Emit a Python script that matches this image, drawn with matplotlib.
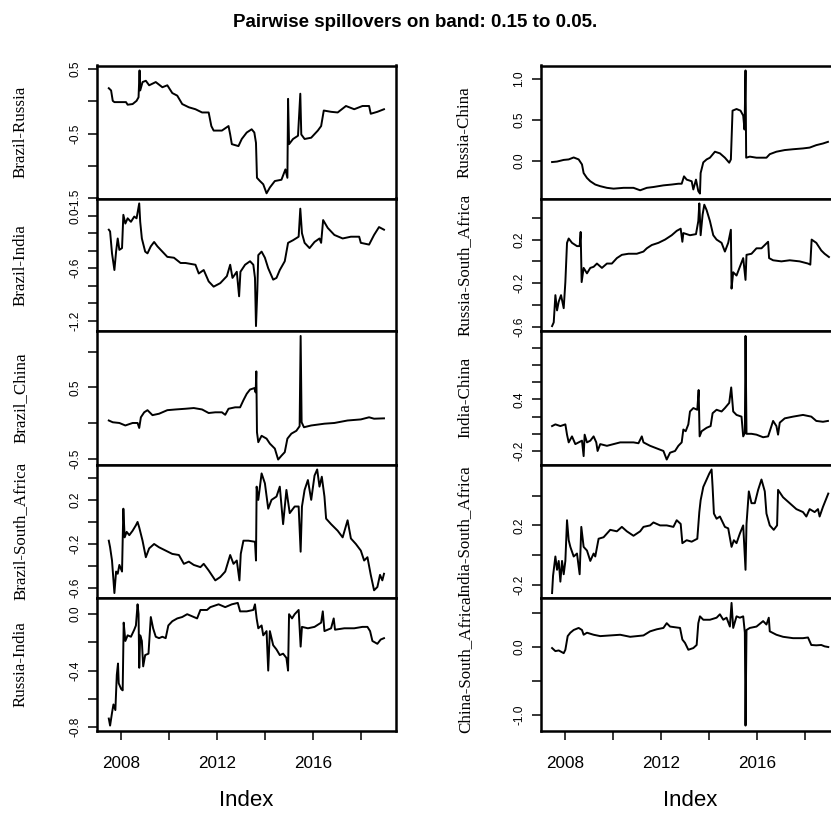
import matplotlib
matplotlib.use("Agg")
import matplotlib.pyplot as plt

# --- data (decimal year, spillover value) ---

br_ru_t = [2007.476, 2007.572, 2007.641, 2007.71, 2008.193, 2008.262, 2008.469, 2008.634, 2008.717, 2008.759,
           2008.786, 2008.883, 2009.021, 2009.159, 2009.434, 2009.71, 2009.917, 2010.124, 2010.331, 2010.538,
           2010.814, 2011.09, 2011.366, 2011.641, 2011.752, 2011.848, 2012.193, 2012.469, 2012.538, 2012.607,
           2012.883, 2013.021, 2013.228, 2013.434, 2013.545, 2013.614, 2013.655, 2013.779, 2013.917, 2014.055,
           2014.193, 2014.40, 2014.676, 2014.841, 2014.924, 2014.952, 2014.993, 2015.159, 2015.366, 2015.462,
           2015.503, 2015.641, 2015.917, 2016.193, 2016.331, 2016.441, 2016.745, 2017.021, 2017.366, 2017.71,
           2018.055, 2018.331, 2018.40, 2018.676, 2018.952]
br_ru = [0.205, 0.17, 0.01, -0.01, -0.01, -0.05, -0.04, 0.01, 0.065, 0.48,
         0.17, 0.30, 0.32, 0.25, 0.30, 0.22, 0.25, 0.13, 0.09, -0.04,
         -0.09, -0.12, -0.17, -0.17, -0.38, -0.45, -0.45, -0.38, -0.51, -0.66,
         -0.69, -0.58, -0.48, -0.43, -0.48, -0.64, -1.18, -1.23, -1.28, -1.42,
         -1.33, -1.23, -1.21, -1.05, -1.18, 0.04, -0.66, -0.58, -0.53, 0.12,
         -0.51, -0.58, -0.56, -0.45, -0.38, -0.14, -0.16, -0.17, -0.07, -0.12,
         -0.07, -0.07, -0.19, -0.16, -0.12]

br_in_t = [2007.476, 2007.53, 2007.61, 2007.71, 2007.78, 2007.848, 2007.917, 2008.028, 2008.083, 2008.166,
           2008.262, 2008.40, 2008.538, 2008.634, 2008.745, 2008.786, 2008.855, 2008.993, 2009.09, 2009.228,
           2009.366, 2009.503, 2009.71, 2009.917, 2010.193, 2010.469, 2010.676, 2011.09, 2011.228, 2011.434,
           2011.641, 2011.848, 2012.124, 2012.40, 2012.538, 2012.634, 2012.814, 2012.910, 2012.966, 2013.159,
           2013.366, 2013.503, 2013.572, 2013.614, 2013.669, 2013.71, 2013.848, 2013.986, 2014.124, 2014.331,
           2014.469, 2014.607, 2014.814, 2014.952, 2015.159, 2015.393, 2015.462, 2015.531, 2015.641, 2015.848,
           2016.055, 2016.262, 2016.331, 2016.414, 2016.607, 2016.883, 2017.228, 2017.572, 2017.917, 2017.986,
           2018.331, 2018.538, 2018.745, 2018.952]
br_in = [-0.16, -0.18, -0.43, -0.62, -0.41, -0.26, -0.39, -0.37, 0.01, -0.09,
         -0.03, -0.07, -0.01, -0.03, 0.14, -0.07, -0.26, -0.41, -0.43, -0.35,
         -0.30, -0.35, -0.41, -0.47, -0.48, -0.54, -0.54, -0.56, -0.66, -0.62,
         -0.75, -0.81, -0.77, -0.69, -0.56, -0.71, -0.64, -0.92, -0.64, -0.56,
         -0.52, -0.56, -0.71, -1.26, -0.86, -0.45, -0.41, -0.48, -0.60, -0.73,
         -0.71, -0.62, -0.52, -0.31, -0.28, -0.24, 0.08, -0.20, -0.31, -0.37,
         -0.30, -0.26, -0.31, -0.05, -0.14, -0.22, -0.26, -0.24, -0.24, -0.31,
         -0.33, -0.22, -0.13, -0.16]

br_cn_t = [2007.476, 2007.641, 2007.917, 2008.166, 2008.469, 2008.676, 2008.745, 2008.814, 2008.952, 2009.09,
           2009.297, 2009.572, 2009.917, 2010.262, 2010.676, 2011.021, 2011.366, 2011.641, 2011.917, 2012.193,
           2012.331, 2012.469, 2012.745, 2012.952, 2013.09, 2013.228, 2013.366, 2013.545, 2013.60, 2013.628,
           2013.655, 2013.71, 2013.848, 2014.055, 2014.193, 2014.40, 2014.538, 2014.676, 2014.814, 2014.924,
           2015.09, 2015.297, 2015.434, 2015.476, 2015.517, 2015.614, 2015.917, 2016.469, 2016.883, 2017.434,
           2017.986, 2018.331, 2018.538, 2018.952]
br_cn = [0.035, 0.01, 0.0, -0.035, 0.0, 0.0, -0.07, 0.08, 0.15, 0.18,
         0.11, 0.13, 0.18, 0.19, 0.20, 0.21, 0.19, 0.14, 0.15, 0.15,
         0.115, 0.20, 0.22, 0.22, 0.32, 0.41, 0.47, 0.49, 0.43, 0.725,
         -0.13, -0.27, -0.18, -0.22, -0.29, -0.36, -0.514, -0.46, -0.41, -0.22,
         -0.15, -0.11, -0.045, 1.223, 0.01, -0.06, -0.035, -0.01, 0.0, 0.035,
         0.05, 0.08, 0.06, 0.065]

br_sa_t = [2007.476, 2007.53, 2007.61, 2007.71, 2007.78, 2007.848, 2007.917, 2008.028, 2008.083, 2008.138,
           2008.221, 2008.331, 2008.469, 2008.607, 2008.676, 2008.745, 2008.883, 2009.021, 2009.159, 2009.366,
           2009.572, 2009.848, 2010.124, 2010.40, 2010.607, 2010.814, 2011.021, 2011.297, 2011.434, 2011.641,
           2011.917, 2012.124, 2012.331, 2012.538, 2012.676, 2012.814, 2012.924, 2012.979, 2013.09, 2013.297,
           2013.572, 2013.614, 2013.641, 2013.71, 2013.848, 2013.986, 2014.124, 2014.262, 2014.469, 2014.607,
           2014.745, 2014.883, 2015.021, 2015.228, 2015.393, 2015.476, 2015.531, 2015.641, 2015.779, 2015.917,
           2016.055, 2016.166, 2016.262, 2016.359, 2016.469, 2016.538, 2016.745, 2017.021, 2017.228, 2017.434,
           2017.572, 2017.779, 2017.986, 2018.124, 2018.262, 2018.40, 2018.538, 2018.676, 2018.786, 2018.883,
           2018.952]
br_sa = [-0.17, -0.23, -0.35, -0.645, -0.45, -0.47, -0.39, -0.45, 0.12, -0.14,
         -0.09, -0.12, -0.08, -0.03, 0.0, -0.05, -0.17, -0.32, -0.24, -0.20,
         -0.23, -0.26, -0.29, -0.30, -0.38, -0.36, -0.39, -0.41, -0.38, -0.44,
         -0.53, -0.50, -0.45, -0.30, -0.38, -0.35, -0.53, -0.29, -0.17, -0.17,
         -0.18, -0.35, 0.32, 0.20, 0.44, 0.35, 0.12, 0.20, 0.23, 0.32,
         -0.02, 0.29, 0.08, 0.14, 0.14, -0.27, 0.14, 0.29, 0.38, 0.20,
         0.42, 0.476, 0.32, 0.41, 0.23, 0.03, -0.02, -0.08, -0.14, 0.015,
         -0.15, -0.20, -0.26, -0.35, -0.32, -0.48, -0.62, -0.59, -0.48, -0.53,
         -0.47]

ru_in_t = [2007.476, 2007.53, 2007.61, 2007.67, 2007.75, 2007.81, 2007.86, 2007.89, 2007.99, 2008.055,
           2008.097, 2008.166, 2008.262, 2008.40, 2008.538, 2008.607, 2008.676, 2008.717, 2008.745, 2008.786,
           2008.855, 2008.910, 2008.993, 2009.131, 2009.228, 2009.324, 2009.434, 2009.572, 2009.71, 2009.848,
           2009.959, 2010.124, 2010.331, 2010.538, 2010.745, 2011.021, 2011.159, 2011.297, 2011.572, 2011.71,
           2012.055, 2012.331, 2012.607, 2012.855, 2012.952, 2013.228, 2013.503, 2013.572, 2013.641, 2013.71,
           2013.848, 2013.917, 2014.055, 2014.124, 2014.193, 2014.331, 2014.469, 2014.607, 2014.745, 2014.883,
           2014.952, 2014.993, 2015.117, 2015.228, 2015.393, 2015.476, 2015.531, 2015.779, 2016.055, 2016.331,
           2016.40, 2016.469, 2016.745, 2016.855, 2016.910, 2017.297, 2017.71, 2018.055, 2018.262, 2018.372,
           2018.469, 2018.676, 2018.814, 2018.952]
ru_in = [-0.74, -0.79, -0.70, -0.64, -0.68, -0.43, -0.35, -0.49, -0.53, -0.54,
         -0.06, -0.19, -0.15, -0.16, -0.11, -0.08, 0.07, 0.0, -0.38, -0.15,
         -0.19, -0.37, -0.29, -0.28, -0.02, -0.10, -0.16, -0.17, -0.16, -0.17,
         -0.08, -0.05, -0.03, -0.02, 0.0, -0.02, -0.03, 0.03, 0.03, 0.05,
         0.07, 0.05, 0.07, 0.08, 0.02, 0.02, 0.03, 0.07, -0.03, -0.10,
         -0.08, -0.15, -0.12, -0.40, -0.12, -0.22, -0.25, -0.29, -0.28, -0.31,
         -0.40, 0.0, -0.03, 0.0, 0.03, -0.23, -0.09, -0.10, -0.09, -0.06,
         0.02, -0.12, -0.10, -0.03, -0.11, -0.10, -0.10, -0.09, -0.09, -0.12,
         -0.19, -0.21, -0.18, -0.17]

ru_cn_t = [2007.446, 2007.653, 2007.931, 2008.139, 2008.347, 2008.554, 2008.693, 2008.762, 2008.901, 2009.04,
           2009.247, 2009.455, 2009.733, 2010.01, 2010.426, 2010.841, 2011.119, 2011.396, 2011.673, 2012.089,
           2012.435, 2012.712, 2012.851, 2012.948, 2013.059, 2013.267, 2013.336, 2013.447, 2013.544, 2013.613,
           2013.641, 2013.752, 2013.891, 2014.029, 2014.237, 2014.445, 2014.653, 2014.833, 2014.902, 2014.972,
           2015.138, 2015.305, 2015.416, 2015.471, 2015.513, 2015.540, 2015.693, 2015.970, 2016.386, 2016.524,
           2016.801, 2017.148, 2017.494, 2017.910, 2018.187, 2018.464, 2018.742, 2018.950]
ru_cn = [-0.016, -0.01, 0.01, 0.016, 0.04, 0.016, -0.045, -0.15, -0.21, -0.25,
         -0.29, -0.31, -0.33, -0.34, -0.33, -0.33, -0.36, -0.33, -0.32, -0.30,
         -0.29, -0.28, -0.28, -0.19, -0.23, -0.25, -0.35, -0.23, -0.37, -0.40,
         -0.15, -0.02, 0.016, 0.037, 0.11, 0.09, 0.037, -0.024, 0.016, 0.61,
         0.63, 0.61, 0.55, 0.38, 1.10, 0.037, 0.05, 0.037, 0.037, 0.08,
         0.11, 0.13, 0.14, 0.15, 0.16, 0.19, 0.21, 0.23]

ru_sa_t = [2007.446, 2007.515, 2007.584, 2007.653, 2007.723, 2007.82, 2007.931, 2008.0, 2008.069, 2008.139,
           2008.277, 2008.485, 2008.596, 2008.638, 2008.679, 2008.762, 2008.901, 2009.04, 2009.178, 2009.317,
           2009.525, 2009.733, 2009.94, 2010.148, 2010.356, 2010.633, 2010.98, 2011.257, 2011.396, 2011.604,
           2011.881, 2012.158, 2012.435, 2012.643, 2012.809, 2012.879, 2012.92, 2013.197, 2013.447, 2013.544,
           2013.586, 2013.641, 2013.724, 2013.794, 2013.891, 2014.029, 2014.168, 2014.306, 2014.514, 2014.653,
           2014.791, 2014.902, 2014.930, 2014.999, 2015.138, 2015.277, 2015.416, 2015.513, 2015.554, 2015.762,
           2015.970, 2016.178, 2016.455, 2016.496, 2016.663, 2017.009, 2017.356, 2017.771, 2018.118, 2018.215,
           2018.270, 2018.464, 2018.672, 2018.811, 2018.991]
ru_sa = [-0.594, -0.56, -0.31, -0.45, -0.37, -0.31, -0.43, -0.19, 0.17, 0.21,
         0.17, 0.14, 0.14, 0.27, -0.19, -0.06, -0.11, -0.06, -0.05, -0.02,
         -0.06, -0.02, -0.02, 0.03, 0.06, 0.07, 0.07, 0.09, 0.12, 0.15,
         0.17, 0.20, 0.24, 0.28, 0.30, 0.18, 0.26, 0.24, 0.25, 0.37,
         0.532, 0.24, 0.43, 0.52, 0.47, 0.37, 0.24, 0.20, 0.17, 0.09,
         0.17, 0.29, -0.25, -0.10, -0.13, -0.05, 0.03, -0.17, 0.06, 0.07,
         0.12, 0.12, 0.18, 0.03, 0.01, 0.0, 0.01, 0.0, -0.02, -0.03,
         0.20, 0.17, 0.10, 0.07, 0.04]

in_cn_t = [2007.446, 2007.584, 2007.792, 2008.0, 2008.069, 2008.139, 2008.277, 2008.416, 2008.554, 2008.693,
           2008.762, 2008.804, 2008.901, 2009.04, 2009.178, 2009.289, 2009.344, 2009.455, 2009.733, 2010.01,
           2010.287, 2010.564, 2010.841, 2011.049, 2011.188, 2011.257, 2011.534, 2011.811, 2012.089, 2012.227,
           2012.366, 2012.574, 2012.712, 2012.851, 2012.92, 2013.017, 2013.128, 2013.197, 2013.336, 2013.502,
           2013.558, 2013.599, 2013.683, 2013.891, 2014.057, 2014.140, 2014.306, 2014.514, 2014.653, 2014.833,
           2014.916, 2014.999, 2015.138, 2015.346, 2015.416, 2015.485, 2015.513, 2015.554, 2015.762, 2015.970,
           2016.247, 2016.455, 2016.663, 2016.801, 2016.870, 2016.940, 2017.148, 2017.494, 2017.910, 2018.256,
           2018.464, 2018.742, 2018.950]
in_cn = [0.09, 0.11, 0.09, 0.11, -0.01, -0.10, -0.03, -0.12, -0.10, -0.08,
         -0.26, -0.01, -0.10, -0.08, -0.03, -0.10, -0.20, -0.12, -0.14, -0.12,
         -0.10, -0.10, -0.10, -0.11, -0.03, -0.10, -0.14, -0.17, -0.20, -0.30,
         -0.22, -0.20, -0.14, -0.10, 0.05, 0.03, 0.11, 0.26, 0.30, 0.28,
         0.51, -0.03, 0.03, 0.07, 0.09, 0.24, 0.28, 0.26, 0.30, 0.36,
         0.54, 0.26, 0.22, 0.20, -0.03, 0.01, 1.14, 0.0, 0.0, -0.01,
         -0.04, -0.03, 0.15, 0.09, -0.01, 0.13, 0.18, 0.20, 0.22, 0.20,
         0.15, 0.14, 0.15]

in_sa_t = [2007.446, 2007.487, 2007.584, 2007.653, 2007.723, 2007.792, 2007.861, 2007.931, 2008.0, 2008.069,
           2008.139, 2008.208, 2008.347, 2008.485, 2008.596, 2008.665, 2008.762, 2008.901, 2009.04, 2009.178,
           2009.247, 2009.386, 2009.594, 2009.871, 2010.148, 2010.356, 2010.564, 2010.841, 2011.119, 2011.257,
           2011.534, 2011.673, 2011.950, 2012.227, 2012.505, 2012.643, 2012.809, 2012.879, 2013.059, 2013.267,
           2013.502, 2013.586, 2013.641, 2013.752, 2013.891, 2014.001, 2014.098, 2014.140, 2014.195, 2014.306,
           2014.445, 2014.653, 2014.791, 2014.930, 2015.027, 2015.138, 2015.277, 2015.416, 2015.513, 2015.554,
           2015.651, 2015.762, 2015.900, 2016.039, 2016.178, 2016.316, 2016.386, 2016.524, 2016.690, 2016.829,
           2016.870, 2017.078, 2017.356, 2017.633, 2017.910, 2018.049, 2018.187, 2018.395, 2018.534, 2018.603,
           2018.742, 2018.853, 2018.964]
in_sa = [-0.257, -0.14, -0.01, -0.10, -0.04, -0.18, -0.04, -0.13, -0.04, 0.235,
         0.10, 0.055, -0.01, 0.01, -0.13, 0.19, 0.055, 0.03, -0.04, 0.01,
         -0.01, 0.11, 0.12, 0.17, 0.16, 0.19, 0.16, 0.13, 0.16, 0.19,
         0.20, 0.22, 0.20, 0.20, 0.19, 0.235, 0.21, 0.08, 0.10, 0.09,
         0.11, 0.29, 0.37, 0.46, 0.51, 0.55, 0.578, 0.46, 0.28, 0.245,
         0.26, 0.19, 0.18, 0.055, 0.10, 0.08, 0.145, 0.20, -0.10, 0.21,
         0.43, 0.35, 0.35, 0.44, 0.51, 0.43, 0.28, 0.20, 0.17, 0.20,
         0.44, 0.39, 0.35, 0.31, 0.29, 0.26, 0.31, 0.29, 0.31, 0.26,
         0.325, 0.37, 0.415]

cn_sa_t = [2007.446, 2007.584, 2007.723, 2007.931, 2008.0, 2008.097, 2008.208, 2008.347, 2008.554, 2008.693,
           2008.762, 2008.901, 2009.178, 2009.455, 2009.871, 2010.287, 2010.703, 2010.980, 2011.257, 2011.534,
           2011.811, 2012.089, 2012.227, 2012.366, 2012.574, 2012.782, 2012.879, 2012.990, 2013.128, 2013.336,
           2013.475, 2013.544, 2013.613, 2013.752, 2014.029, 2014.306, 2014.445, 2014.584, 2014.722, 2014.861,
           2014.930, 2014.999, 2015.138, 2015.277, 2015.416, 2015.485, 2015.513, 2015.554, 2015.693, 2015.970,
           2016.247, 2016.386, 2016.483, 2016.524, 2016.801, 2017.078, 2017.494, 2017.910, 2018.118, 2018.256,
           2018.464, 2018.672, 2018.811, 2018.964]
cn_sa = [-0.015, -0.06, -0.05, -0.09, -0.04, 0.16, 0.21, 0.25, 0.28, 0.25,
         0.18, 0.21, 0.18, 0.16, 0.17, 0.18, 0.15, 0.16, 0.17, 0.23,
         0.26, 0.28, 0.35, 0.30, 0.29, 0.28, 0.11, 0.06, -0.04, -0.015,
         0.03, 0.35, 0.45, 0.40, 0.40, 0.43, 0.48, 0.40, 0.43, 0.30,
         0.647, 0.28, 0.45, 0.43, 0.45, 0.21, -1.152, 0.25, 0.28, 0.30,
         0.38, 0.33, 0.43, 0.23, 0.18, 0.15, 0.13, 0.13, 0.14, 0.03,
         0.025, 0.03, 0.01, 0.0]

# y tick values and which of them carry a label (R drops overlapping ones)
left_names = ["Brazil-Russia", "Brazil-India", "Brazil_China", "Brazil-South_Africa", "Russia-India"]
right_names = ["Russia-China", "Russia-South_Africa", "India-China", "India-South_Africa", "China-South_Africa"]
left_series = [(br_ru_t, br_ru), (br_in_t, br_in), (br_cn_t, br_cn), (br_sa_t, br_sa), (ru_in_t, ru_in)]
right_series = [(ru_cn_t, ru_cn), (ru_sa_t, ru_sa), (in_cn_t, in_cn), (in_sa_t, in_sa), (cn_sa_t, cn_sa)]
left_ticks = [[-1.5, -1.0, -0.5, 0.0, 0.5], [-1.2, -1.0, -0.8, -0.6, -0.4, -0.2, 0.0],
              [-0.5, 0.0, 0.5, 1.0], [-0.6, -0.4, -0.2, 0.0, 0.2, 0.4], [-0.8, -0.6, -0.4, -0.2, 0.0]]
left_labels = [["-1.5", "", "-0.5", "", "0.5"], ["-1.2", "", "", "-0.6", "", "", "0.0"],
               ["-0.5", "", "0.5", ""], ["-0.6", "", "-0.2", "", "0.2", ""], ["-0.8", "", "-0.4", "", "0.0"]]
right_ticks = [[0.0, 0.5, 1.0], [-0.6, -0.4, -0.2, 0.0, 0.2, 0.4],
               [-0.2, 0.0, 0.2, 0.4, 0.6, 0.8, 1.0], [-0.2, 0.0, 0.2, 0.4], [-1.0, -0.5, 0.0, 0.5]]
right_labels = [["0.0", "0.5", "1.0"], ["-0.6", "", "-0.2", "", "0.2", ""],
                ["-0.2", "", "", "0.4", "", "", ""], ["-0.2", "", "0.2", ""], ["-1.0", "", "0.0", ""]]
year_ticks = [2008, 2010, 2012, 2014, 2016, 2018]
year_labels = ["2008", "", "2012", "", "2016", ""]

sans = "Liberation Sans"

fig = plt.figure(figsize=(8.31, 8.16), dpi=100)
fig.suptitle("Pairwise spillovers on band: 0.15 to 0.05.", x=0.5, y=0.983,
             fontsize=13.5, fontweight="bold", family=sans)

# common x range with R's 4% padding
t0 = min(s[0][0] for s in left_series + right_series)
t1 = max(s[0][-1] for s in left_series + right_series)
pad = 0.04 * (t1 - t0)

rows_top = [65.5, 198.5, 331.0, 464.5, 598.0, 730.5]
W, H = 831.0, 816.0

for x_px, nms, series, ticks, labels in [
        (97.0, left_names, left_series, left_ticks, left_labels),
        (541.0, right_names, right_series, right_ticks, right_labels)]:
    for i in range(5):
        top, bot = rows_top[i], rows_top[i + 1]
        ax = fig.add_axes([x_px / W, 1 - bot / H, 299.0 / W, (bot - top) / H])
        t, v = series[i]
        ax.plot(t, v, color="black", lw=1.4)
        lo, hi = min(v), max(v)
        r = hi - lo
        ax.set_ylim(lo - 0.04 * r, hi + 0.04 * r)
        ax.set_xlim(t0 - pad, t1 + pad)
        ax.set_yticks(ticks[i])
        ax.set_yticklabels(labels[i], rotation=90, va="center", family=sans, fontsize=8.6)
        ax.tick_params(axis="y", length=6.5, width=1.1, pad=5)
        for sp in ax.spines.values():
            sp.set_linewidth(1.8)
        ax.set_ylabel(nms[i], family="Liberation Serif", fontsize=12.2)
        ax.yaxis.set_label_coords(-68.0 / 299.0, 0.5)
        if i < 4:
            ax.set_xticks([])
        else:
            ax.set_xticks(year_ticks)
            ax.set_xticklabels(year_labels, family=sans, fontsize=12.3)
            ax.tick_params(axis="x", length=6.5, width=1.1, pad=11.5)
            ax.set_xlabel("Index", family=sans, fontsize=16, labelpad=14)

fig.savefig("out.png", dpi=100)
